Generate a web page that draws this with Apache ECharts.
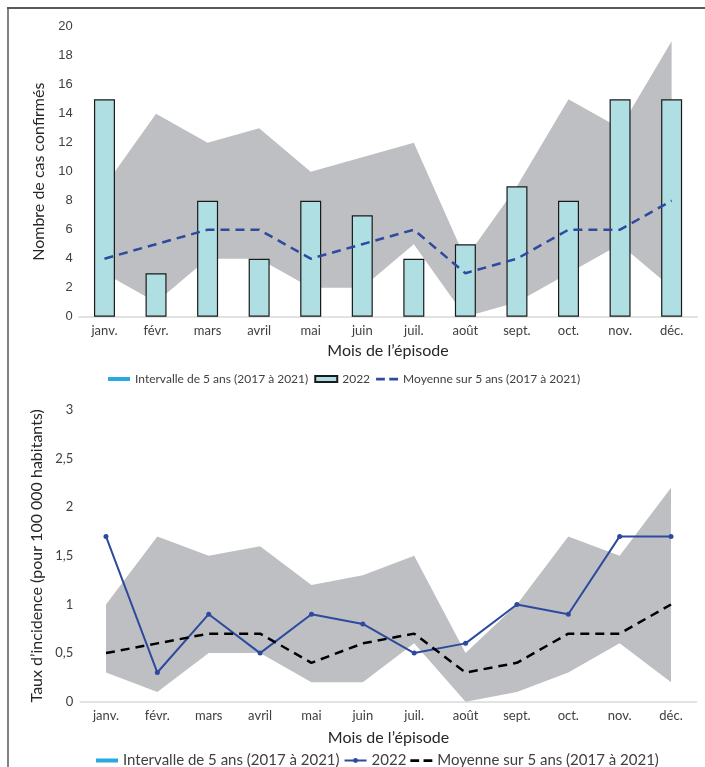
<!DOCTYPE html>
<html>
<head>
<meta charset="utf-8">
<script src="https://cdn.jsdelivr.net/npm/echarts@6/dist/echarts.min.js"></script>
<style>
  html, body { margin: 0; padding: 0; background: #fff; }
  #haut { position: absolute; left: 0; top: 0; width: 705px; height: 390px; }
  #bas { position: absolute; left: 0; top: 390px; width: 705px; height: 377px; }
</style>
</head>
<body>
<div id="haut"></div>
<div id="bas"></div>
<script>
// mois de l'épisode
const mois = ["janv.", "févr.", "mars", "avril", "mai", "juin", "juil.", "août", "sept.", "oct.", "nov.", "déc."]

// nombre de cas confirmés
const cas2022 = [15, 3, 8, 4, 8, 7, 4, 5, 9, 8, 15, 15]
const casMoyenne = [4, 5, 6, 6, 4, 5, 6, 3, 4, 6, 6, 8]
const casMin = [3, 1, 4, 4, 2, 2, 5, 0, 1, 3, 5, 2]
const casMax = [9, 14, 12, 13, 10, 11, 12, 4, 9, 15, 13, 19]

// taux d'incidence pour 100 000 habitants
const taux2022 = [1.7, 0.3, 0.9, 0.5, 0.9, 0.8, 0.5, 0.6, 1.0, 0.9, 1.7, 1.7]
const tauxMoyenne = [0.5, 0.6, 0.7, 0.7, 0.4, 0.6, 0.7, 0.3, 0.4, 0.7, 0.7, 1.0]
const tauxMin = [0.3, 0.1, 0.5, 0.5, 0.2, 0.2, 0.6, 0, 0.1, 0.3, 0.6, 0.2]
const tauxMax = [1.0, 1.7, 1.5, 1.6, 1.2, 1.3, 1.5, 0.5, 1.0, 1.7, 1.5, 2.2]

const nomIntervalle = "Intervalle de 5 ans (2017 à 2021)"
const nomMoyenne = "Moyenne sur 5 ans (2017 à 2021)"

const texte = "#404040"
const gris = "#BEBFC2"
const bleu = "#2E4A9E"
const police = "Lato"

// icônes de légende
const iconeIntervalle = "path://M0 1H22V5H0Z"
const iconeTirets = "path://M0 2H8V4.5H0Z M12 2H20V4.5H12Z"

// écart entre max et min, pour la bande empilée
function ecart(max, min) {
  return max.map((v, i) => Math.round((v - min[i]) * 10) / 10)
}

function axeX(gap) {
  return {
    type: "category",
    data: mois,
    name: "Mois de l’épisode",
    nameLocation: "middle",
    nameGap: gap,
    nameTextStyle: { fontFamily: police, fontSize: 16, color: "#262626" },
    axisLine: { lineStyle: { color: "#D9D9D9", width: 1.5 } },
    axisTick: { show: false },
    axisLabel: { fontFamily: police, fontSize: 13, color: texte, margin: 8 }
  }
}

function bande(min, max) {
  return [
    {
      name: "min",
      type: "line",
      stack: "bande",
      data: min,
      symbol: "none",
      lineStyle: { opacity: 0 },
      silent: true,
      z: 1
    },
    {
      name: nomIntervalle,
      type: "line",
      stack: "bande",
      data: ecart(max, min),
      symbol: "none",
      lineStyle: { opacity: 0 },
      areaStyle: { color: gris, opacity: 1 },
      silent: true,
      z: 1
    }
  ]
}

// bordure du cadre
function cadre(avecHaut, h) {
  const g = [{ type: "line", shape: { x1: 8, y1: avecHaut ? 8 : 0, x2: 8, y2: h }, style: { stroke: "#595959", lineWidth: 1.5 } }]
  if (avecHaut) {
    g.push({ type: "line", shape: { x1: 7, y1: 8, x2: 705, y2: 8 }, style: { stroke: "#595959", lineWidth: 2 } })
  }
  return g
}

// graphique du haut : nombre de cas
const chartHaut = echarts.init(document.getElementById("haut"))
chartHaut.setOption({
  animation: false,
  graphic: cadre(true, 390),
  grid: { left: 78.7, top: 26.7, width: 618.7, height: 290 },
  legend: {
    top: 373,
    left: 108,
    padding: 0,
    itemWidth: 22,
    itemHeight: 6,
    itemGap: 6,
    textStyle: { fontFamily: police, fontSize: 12, color: texte },
    data: [
      { name: nomIntervalle, icon: iconeIntervalle, itemStyle: { color: "#29A9E1", borderWidth: 0 } },
      { name: "2022", icon: "rect" },
      { name: nomMoyenne, icon: iconeTirets, itemStyle: { color: bleu } }
    ]
  },
  xAxis: axeX(26),
  yAxis: {
    type: "value",
    min: 0,
    max: 20,
    interval: 2,
    splitLine: { show: false },
    axisLabel: { fontFamily: "Liberation Sans", fontSize: 13, color: texte, margin: 6 },
    name: "Nombre de cas confirmés",
    nameLocation: "middle",
    nameGap: 31,
    nameTextStyle: { fontFamily: police, fontSize: 16, color: "#262626" }
  },
  series: [
    ...bande(casMin, casMax),
    {
      name: "2022",
      type: "bar",
      data: cas2022,
      barWidth: 21,
      itemStyle: { color: "#B0DFE3", borderColor: "#1a1a1a", borderWidth: 1.2 },
      z: 2
    },
    {
      name: nomMoyenne,
      type: "line",
      data: casMoyenne,
      symbol: "none",
      lineStyle: { color: bleu, width: 2.5, type: [9, 6] },
      itemStyle: { color: bleu },
      z: 3
    }
  ]
})

// graphique du bas : taux d'incidence
const chartBas = echarts.init(document.getElementById("bas"))
chartBas.setOption({
  animation: false,
  graphic: cadre(false, 377),
  grid: { left: 80.3, top: 20, width: 616.4, height: 291.7 },
  legend: {
    top: 363,
    left: 96,
    padding: 0,
    itemWidth: 22,
    itemHeight: 6,
    itemGap: 4,
    textStyle: { fontFamily: police, fontSize: 15, color: texte },
    data: [
      { name: nomIntervalle, icon: iconeIntervalle, itemStyle: { color: "#29A9E1", borderWidth: 0 } },
      { name: "2022" },
      { name: nomMoyenne, icon: iconeTirets, itemStyle: { color: "#000" } }
    ]
  },
  xAxis: axeX(28),
  yAxis: {
    type: "value",
    min: 0,
    max: 3,
    interval: 0.5,
    splitLine: { show: false },
    axisLabel: {
      fontFamily: police,
      fontSize: 13,
      color: texte,
      margin: 7,
      formatter: (v) => String(v).replace(".", ",")
    },
    name: "Taux d’incidence (pour 100 000 habitants)",
    nameLocation: "middle",
    nameGap: 33,
    nameTextStyle: { fontFamily: police, fontSize: 16, color: "#262626" }
  },
  series: [
    ...bande(tauxMin, tauxMax),
    {
      name: "2022",
      type: "line",
      data: taux2022,
      symbol: "circle",
      symbolSize: 5,
      lineStyle: { color: bleu, width: 2 },
      itemStyle: { color: bleu },
      z: 3
    },
    {
      name: nomMoyenne,
      type: "line",
      data: tauxMoyenne,
      symbol: "none",
      lineStyle: { color: "#000", width: 2.5, type: [9, 6] },
      itemStyle: { color: "#000" },
      z: 3
    }
  ]
})
</script>
</body>
</html>
